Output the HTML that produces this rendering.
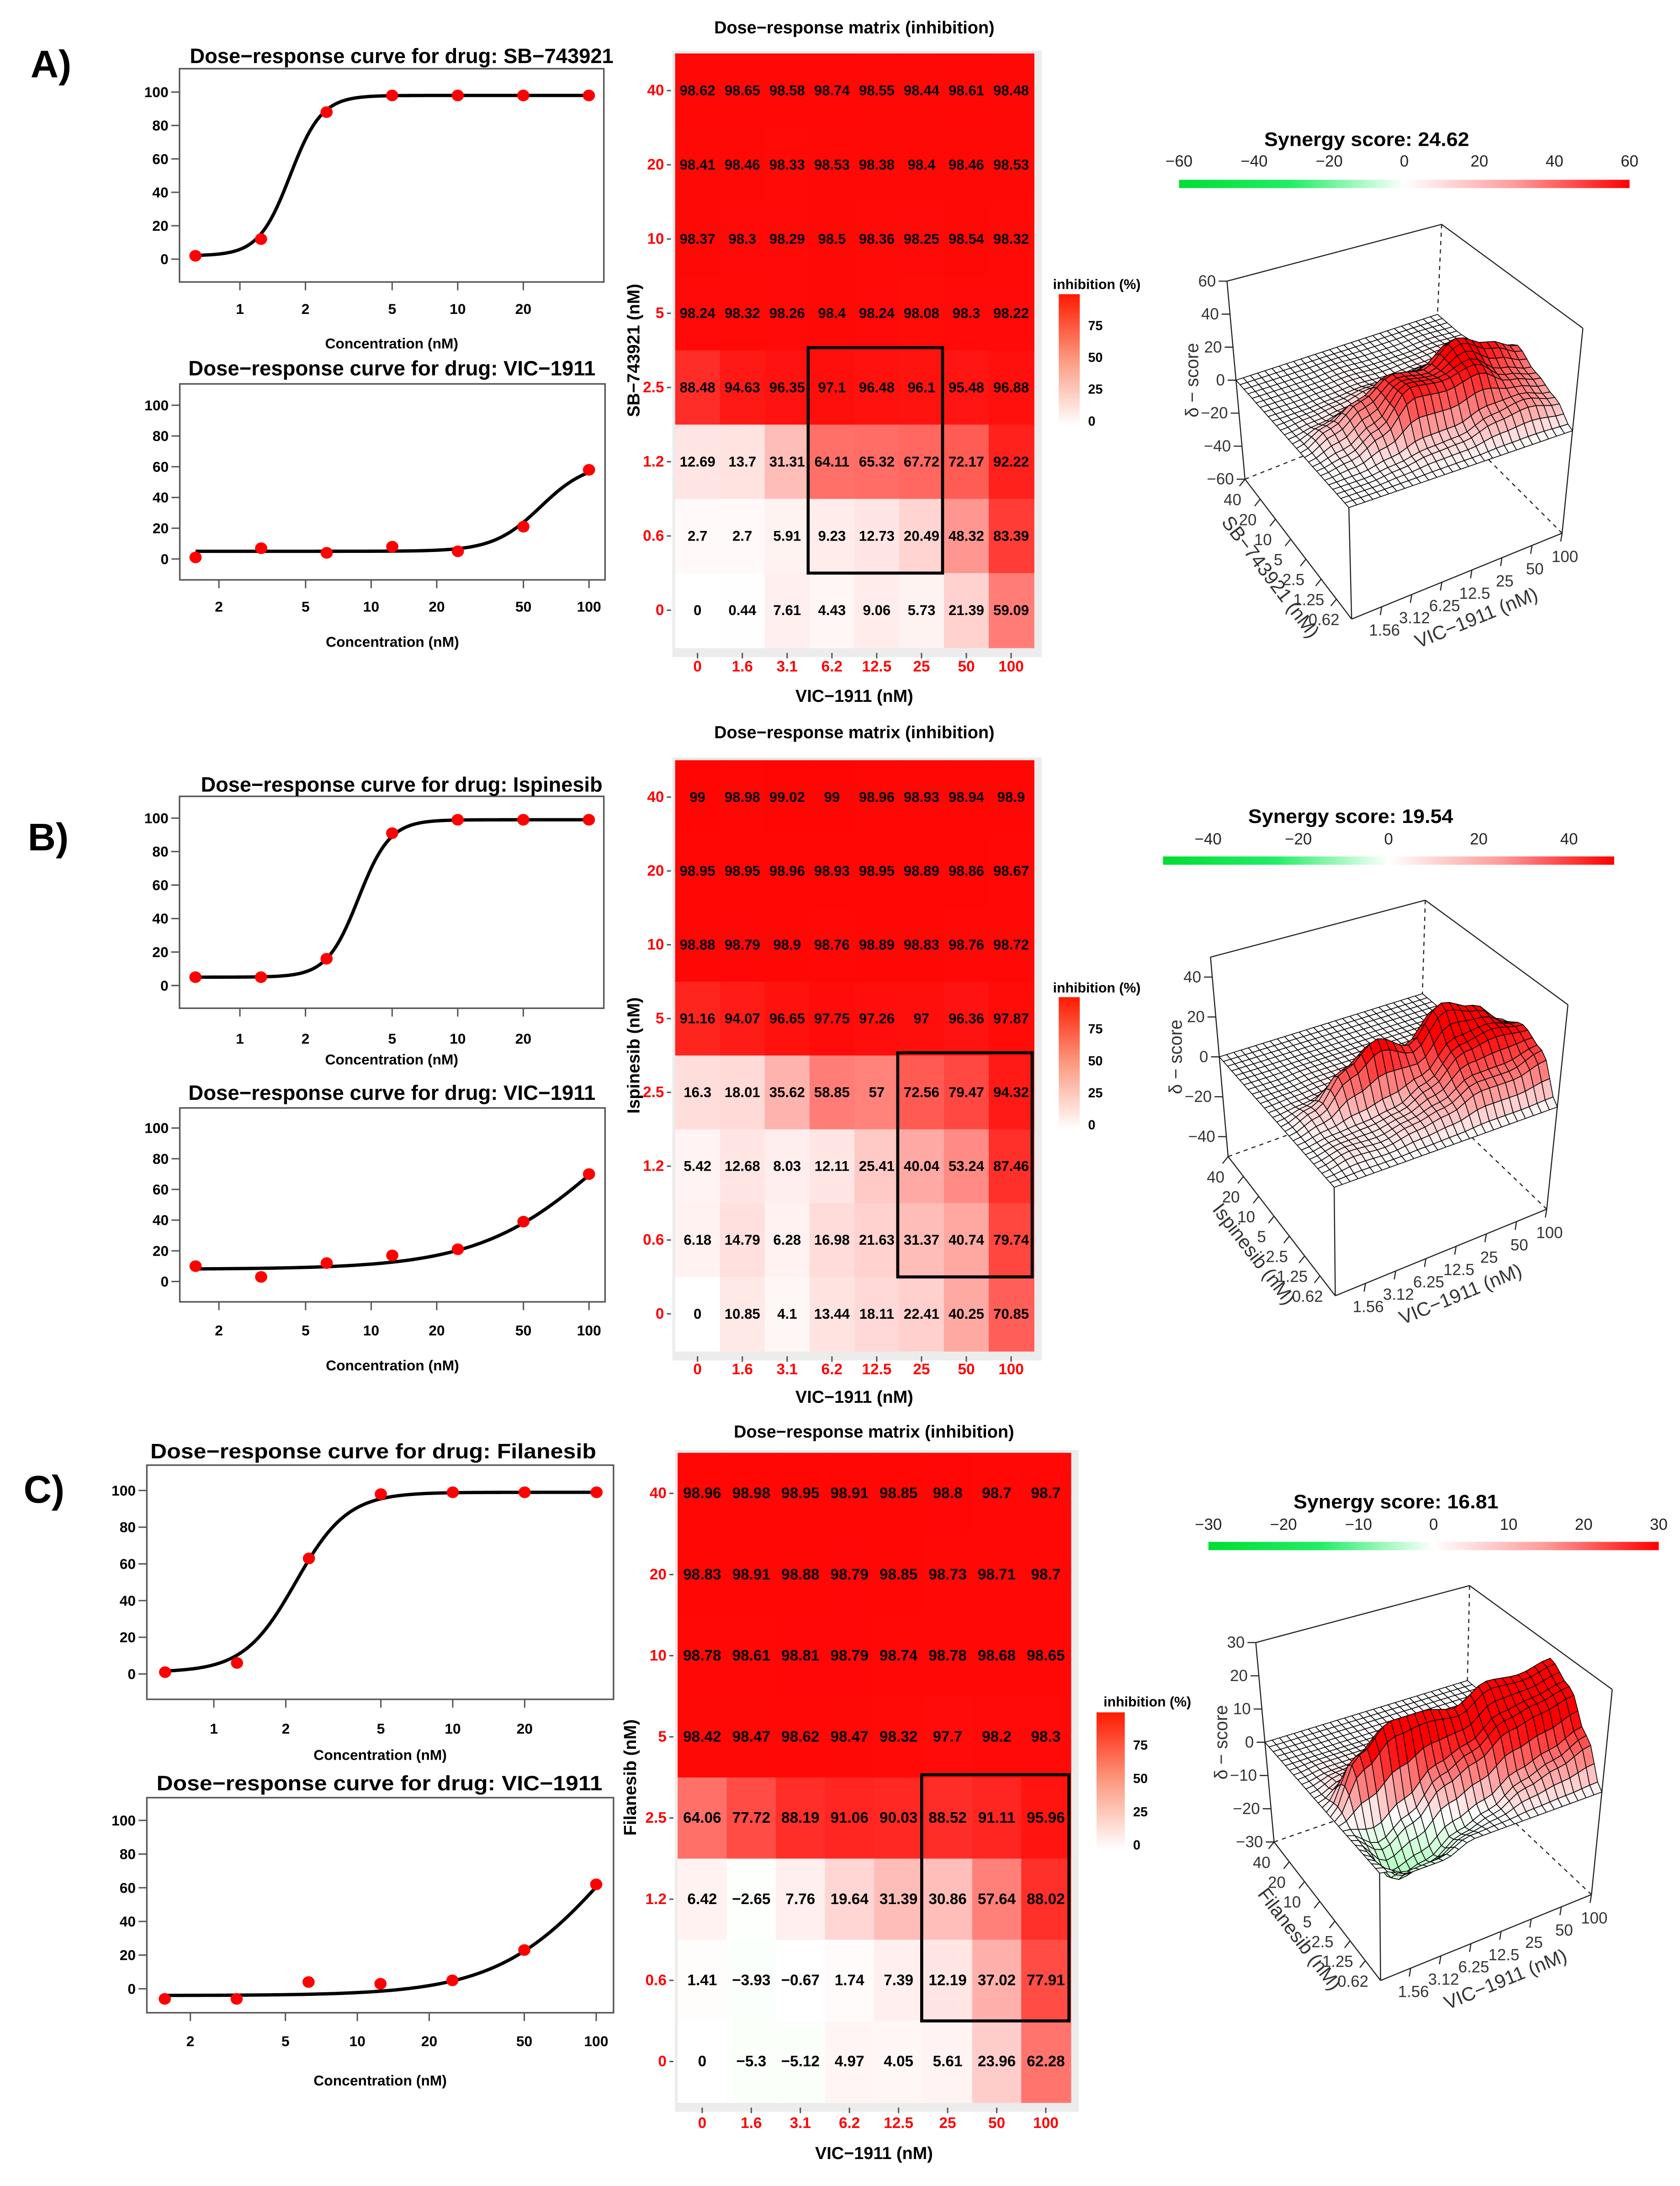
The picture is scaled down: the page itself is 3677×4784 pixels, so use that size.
<!DOCTYPE html>
<html><head><meta charset="utf-8">
<style>
html,body{margin:0;padding:0;background:#fff;width:3677px;height:4784px;overflow:hidden}
svg{display:block}
text{font-family:"Liberation Sans",sans-serif}
</style></head>
<body>
<svg id="fig" xmlns="http://www.w3.org/2000/svg" width="3677" height="4784" viewBox="0 0 1213.1 1578.4">
<defs>
<linearGradient id="gInh" x1="0" y1="1" x2="0" y2="0"><stop offset="0" stop-color="#ffffff"/><stop offset="0.5" stop-color="#fb9a80"/><stop offset="1" stop-color="#ff1a00"/></linearGradient>
<linearGradient id="gSyn" x1="0" y1="0" x2="1" y2="0"><stop offset="0" stop-color="#00dd33"/><stop offset="0.25" stop-color="#22ee66"/><stop offset="0.5" stop-color="#ffffff"/><stop offset="0.75" stop-color="#ff9999"/><stop offset="1" stop-color="#ff0000"/></linearGradient>
</defs>
<rect x="0" y="0" width="1213.1" height="1578.4" fill="#fff"/>
<text x="22" y="56" font-size="28" font-weight="bold">A)</text>
<text x="20" y="614" font-size="28" font-weight="bold">B)</text>
<text x="17" y="1085" font-size="28" font-weight="bold">C)</text>
</svg>
<script>
// ---------- DATA ----------
const concDrug = [0.625, 1.25, 2.5, 5, 10, 20, 40];
const concVIC = [1.5625, 3.125, 6.25, 12.5, 25, 50, 100];
const respA1 = [2, 12, 88, 98, 98, 98, 98];
const respA2 = [1, 7, 4, 8, 5, 21, 58];
const respB1 = [5, 5, 16, 91, 99, 99, 99];
const respB2 = [10, 3, 12, 17, 21, 39, 70];
const respC1 = [1, 6, 63, 98, 99, 99, 99];
const respC2 = [-6, -6, 4, 3, 5, 23, 62];
// fit params: bottom, top, ec50, hill
const fitA1 = [2, 98, 1.7, 6];
const fitA2 = [5, 63, 60, 4];
const fitB1 = [5, 99, 3.5, 6];
const fitB2 = [8, 150, 120, 1.5];
const fitC1 = [1, 99, 2.2, 4];
const fitC2 = [-4, 150, 120, 1.8];
const yTicksCurve = [0, 20, 40, 60, 80, 100];
const xTicksDrug = [1, 2, 5, 10, 20];
const xTicksVIC = [2, 5, 10, 20, 50, 100];

const colLabels = ['0', '1.6', '3.1', '6.2', '12.5', '25', '50', '100'];
const rowLabels = ['40', '20', '10', '5', '2.5', '1.2', '0.6', '0'];
const matA = [
 [98.62,98.65,98.58,98.74,98.55,98.44,98.61,98.48],
 [98.41,98.46,98.33,98.53,98.38,98.4,98.46,98.53],
 [98.37,98.3,98.29,98.5,98.36,98.25,98.54,98.32],
 [98.24,98.32,98.26,98.4,98.24,98.08,98.3,98.22],
 [88.48,94.63,96.35,97.1,96.48,96.1,95.48,96.88],
 [12.69,13.7,31.31,64.11,65.32,67.72,72.17,92.22],
 [2.7,2.7,5.91,9.23,12.73,20.49,48.32,83.39],
 [0,0.44,7.61,4.43,9.06,5.73,21.39,59.09]];
const matB = [
 [99,98.98,99.02,99,98.96,98.93,98.94,98.9],
 [98.95,98.95,98.96,98.93,98.95,98.89,98.86,98.67],
 [98.88,98.79,98.9,98.76,98.89,98.83,98.76,98.72],
 [91.16,94.07,96.65,97.75,97.26,97,96.36,97.87],
 [16.3,18.01,35.62,58.85,57,72.56,79.47,94.32],
 [5.42,12.68,8.03,12.11,25.41,40.04,53.24,87.46],
 [6.18,14.79,6.28,16.98,21.63,31.37,40.74,79.74],
 [0,10.85,4.1,13.44,18.11,22.41,40.25,70.85]];
const matC = [
 [98.96,98.98,98.95,98.91,98.85,98.8,98.7,98.7],
 [98.83,98.91,98.88,98.79,98.85,98.73,98.71,98.7],
 [98.78,98.61,98.81,98.79,98.74,98.78,98.68,98.65],
 [98.42,98.47,98.62,98.47,98.32,97.7,98.2,98.3],
 [64.06,77.72,88.19,91.06,90.03,88.52,91.11,95.96],
 [6.42,-2.65,7.76,19.64,31.39,30.86,57.64,88.02],
 [1.41,-3.93,-0.67,1.74,7.39,12.19,37.02,77.91],
 [0,-5.3,-5.12,4.97,4.05,5.61,23.96,62.28]];
const legendTicks = [0, 25, 50, 75];

const deltaA = [
 [0,0,0,0,0,0,0,0],
 [0,0,0,1,0,0,1,0],
 [0,0,1,2,1,2,3,2],
 [0,2,4,8,8,12,10,8],
 [0,8,18,28,25,38,30,22],
 [0,3,12,30,28,32,20,15],
 [0,0,2,5,6,12,15,10],
 [0,0,0,0,0,0,0,0]];
const deltaB = [
 [0,0,0,0,0,0,0,0],
 [0,0,0,0,0,0,0,0],
 [0,0,1,1,1,1,1,1],
 [0,1,2,3,5,10,8,5],
 [0,5,20,30,22,38,32,20],
 [0,2,3,5,12,25,28,25],
 [0,3,2,5,8,15,15,20],
 [0,0,0,0,0,0,0,0]];
const deltaC = [
 [0,0,0,0,0,0,0,0],
 [0,0,0,0,0,0,0,0],
 [0,1,1,1,1,1,1,1],
 [0,3,5,5,4,5,6,5],
 [0,15,22,22,20,25,24,26],
 [0,-5,0,8,12,18,20,22],
 [0,-10,-8,-3,0,5,8,12],
 [0,-3,-3,0,0,0,0,0]];
const drugTickLabels = ['40', '20', '10', '5', '2.5', '1.25', '0.62'];
const vicTickLabels = ['1.56', '3.12', '6.25', '12.5', '25', '50', '100'];
const zTicksA = [60, 40, 20, 0, -20, -40, -60];
const zTicksB = [40, 20, 0, -20, -40];
const zTicksC = [30, 20, 10, 0, -10, -20, -30];
const synTicksA = [-60, -40, -20, 0, 20, 40, 60];
const synTicksB = [-40, -20, 0, 20, 40];
const synTicksC = [-30, -20, -10, 0, 10, 20, 30];
const synScores = ['24.62', '19.54', '16.81'];

// ---------- HELPERS ----------
const NS = 'http://www.w3.org/2000/svg';
const svg = document.getElementById('fig');
function mk(tag, attrs, parent, txt) {
  const e = document.createElementNS(NS, tag);
  for (const k in attrs) e.setAttribute(k, attrs[k]);
  if (txt !== undefined) e.textContent = txt;
  parent.appendChild(e);
  return e;
}
function fmt(v) { return v < 0 ? '\u2212' + Math.abs(v) : String(v); }

// ---------- DOSE-RESPONSE CURVES ----------
function curvePanel(name, geo, title, conc, resp, fit, xticks) {
  const g = mk('g', {}, svg);
  
  
  const xs = c => geo.x1 + geo.dec * Math.log10(c);
  const ys = v => geo.yz + (geo.yh - geo.yz) * v / 100;
  const box = mk('rect', {x: geo.bx0, y: geo.by0, width: geo.bx1 - geo.bx0, height: geo.by1 - geo.by0, fill: 'none', stroke: '#555', 'stroke-width': 1.1}, g);
  
  
  const t = mk('text', {x: geo.tx, y: geo.ty, 'text-anchor': 'middle', 'dominant-baseline': 'central', 'font-size': 15, 'font-weight': 'bold', textLength: geo.tl, lengthAdjust: 'spacingAndGlyphs'}, g, title);
  
  
  yTicksCurve.forEach(v => {
    const y = ys(v);
    const tk = mk('line', {x1: geo.bx0 - 6, x2: geo.bx0, y1: y, y2: y, stroke: '#555', 'stroke-width': 1}, g);
    
    
    const lb = mk('text', {x: geo.bx0 - 8, y: y, 'text-anchor': 'end', 'dominant-baseline': 'central', 'font-size': 10.5, 'font-weight': 'bold'}, g, String(v));
    
    
  });
  xticks.forEach(v => {
    const x = xs(v);
    const tk = mk('line', {x1: x, x2: x, y1: geo.by1, y2: geo.by1 + 6, stroke: '#555', 'stroke-width': 1}, g);
    
    
    const lb = mk('text', {x: x, y: geo.xty, 'text-anchor': 'middle', 'dominant-baseline': 'central', 'font-size': 10.5, 'font-weight': 'bold'}, g, String(v));
    
    
  });
  const xl = mk('text', {x: (geo.bx0 + geo.bx1) / 2, y: geo.xly, 'text-anchor': 'middle', 'dominant-baseline': 'central', 'font-size': 10.5, 'font-weight': 'bold'}, g, 'Concentration (nM)');
  
  
  const lo = Math.log10(conc[0]), hi = Math.log10(conc[conc.length - 1]);
  let d = '';
  for (let i = 0; i <= 120; i++) {
    const c = Math.pow(10, lo + (hi - lo) * i / 120);
    const v = fit[0] + (fit[1] - fit[0]) / (1 + Math.pow(fit[2] / c, fit[3]));
    d += (i ? 'L' : 'M') + xs(c).toFixed(2) + ',' + ys(v).toFixed(2);
  }
  const p = mk('path', {d: d, fill: 'none', stroke: '#000', 'stroke-width': 2.4}, g);
  
  
  conc.forEach((c, i) => {
    const pt = mk('ellipse', {cx: xs(c), cy: ys(resp[i]), rx: 4.4, ry: 4.2, fill: '#ff0000'}, g);
    
    
  });
}

curvePanel('curve-a-sb743921', {bx0:129.6,bx1:436,by0:49.6,by1:203.6,yh:66.5,yz:187.1,x1:173.2,dec:157.3,tx:290,ty:40.4,tl:306,xty:223,xly:248}, 'Dose\u2212response curve for drug: SB\u2212743921', concDrug, respA1, fitA1, xTicksDrug);
curvePanel('curve-a-vic1911', {bx0:129.8,bx1:436.9,by0:277.2,by1:418.7,yh:292.6,yz:403.6,x1:110.7,dec:157.3,tx:283,ty:266,tl:294,xty:438,xly:463.4}, 'Dose\u2212response curve for drug: VIC\u22121911', concVIC, respA2, fitA2, xTicksVIC);
curvePanel('curve-b-ispinesib', {bx0:129.6,bx1:436,by0:575,by1:728,yh:590.7,yz:711.6,x1:173.2,dec:157.3,tx:290,ty:566.5,tl:290,xty:750,xly:765}, 'Dose\u2212response curve for drug: Ispinesib', concDrug, respB1, fitB1, xTicksDrug);
curvePanel('curve-b-vic1911', {bx0:129.8,bx1:436.9,by0:800,by1:940,yh:814.5,yz:925.3,x1:110.7,dec:157.3,tx:283,ty:789,tl:294,xty:960.6,xly:985.8}, 'Dose\u2212response curve for drug: VIC\u22121911', concVIC, respB2, fitB2, xTicksVIC);
curvePanel('curve-c-filanesib', {bx0:106,bx1:443,by0:1057.9,by1:1227,yh:1076.2,yz:1208.7,x1:154.4,dec:172.5,tx:269.5,ty:1047.8,tl:322,xty:1248.2,xly:1267.1}, 'Dose\u2212response curve for drug: Filanesib', concDrug, respC1, fitC1, xTicksDrug);
curvePanel('curve-c-vic1911', {bx0:106,bx1:443,by0:1298,by1:1453.3,yh:1314.4,yz:1436,x1:85.5,dec:172.5,tx:274,ty:1287.6,tl:322,xty:1473.8,xly:1502.2}, 'Dose\u2212response curve for drug: VIC\u22121911', concVIC, respC2, fitC2, xTicksVIC);

// ---------- HEATMAPS ----------
function inhColor(v) {
  if (v >= 0) {
    const t = Math.min(v / 100, 1);
    const k = Math.pow(1 - t, 0.8);
    return 'rgb(255,' + Math.round(255 * k) + ',' + Math.round(255 * Math.pow(k, 1.08)) + ')';
  }
  const t = Math.min(-v / 40, 1);
  return 'rgb(' + Math.round(255 - 40 * t) + ',255,' + Math.round(255 - 40 * t) + ')';
}
function heatmap(name, geo, M, title, ylab, rc) {
  const g = mk('g', {}, svg);
  
  
  const W = geo.cw * 8, H = geo.rh * 8;
  const bg = mk('rect', {x: geo.x0 - 2, y: geo.y0 - 2, width: W + 8, height: H + 9, fill: '#ececec'}, g);
  
  
  M.forEach((row, r) => row.forEach((v, c) => {
    const cell = mk('rect', {x: geo.x0 + c * geo.cw, y: geo.y0 + r * geo.rh, width: geo.cw + 0.6, height: geo.rh + 0.6, fill: inhColor(v)}, g);
    
    
  }));
  M.forEach((row, r) => row.forEach((v, c) => {
    const tx = mk('text', {x: geo.x0 + (c + 0.5) * geo.cw, y: geo.y0 + (r + 0.5) * geo.rh, 'text-anchor': 'middle', 'dominant-baseline': 'central', 'font-size': geo.fs, 'font-weight': 'bold'}, g, fmt(v));
    
    
  }));
  rowLabels.forEach((l, r) => {
    const y = geo.y0 + (r + 0.5) * geo.rh;
    const tk = mk('line', {x1: geo.x0 - 6, x2: geo.x0 - 3, y1: y, y2: y, stroke: '#555', 'stroke-width': 1}, g);
    
    
    const lb = mk('text', {x: geo.x0 - 8, y: y, 'text-anchor': 'end', 'dominant-baseline': 'central', 'font-size': 11, 'font-weight': 'bold', fill: '#ff0000'}, g, l);
    
    
  });
  colLabels.forEach((l, c) => {
    const x = geo.x0 + (c + 0.5) * geo.cw;
    const tk = mk('line', {x1: x, x2: x, y1: geo.y0 + H + 4, y2: geo.y0 + H + 8, stroke: '#555', 'stroke-width': 1}, g);
    
    
    const lb = mk('text', {x: x, y: geo.xty, 'text-anchor': 'middle', 'dominant-baseline': 'central', 'font-size': 11, 'font-weight': 'bold', fill: '#ff0000'}, g, l);
    
    
  });
  const ti = mk('text', {x: geo.x0 + W / 2, y: geo.ty, 'text-anchor': 'middle', 'dominant-baseline': 'central', 'font-size': 12.5, 'font-weight': 'bold'}, g, title);
  
  
  const xl = mk('text', {x: geo.x0 + W / 2, y: geo.xly, 'text-anchor': 'middle', 'dominant-baseline': 'central', 'font-size': 12.5, 'font-weight': 'bold'}, g, 'VIC\u22121911 (nM)');
  
  
  const yl = mk('text', {x: geo.ylx, y: geo.y0 + H / 2, 'text-anchor': 'middle', 'dominant-baseline': 'central', 'font-size': 12.5, 'font-weight': 'bold', transform: 'rotate(-90 ' + geo.ylx + ' ' + (geo.y0 + H / 2) + ')'}, g, ylab);
  
  
  const hl = mk('rect', {x: geo.x0 + rc[0] * geo.cw - 1, y: geo.y0 + rc[2] * geo.rh - 2, width: (rc[1] - rc[0] + 1) * geo.cw, height: (rc[3] - rc[2] + 1) * geo.rh + 2, fill: 'none', stroke: '#000', 'stroke-width': 2.2}, g);
  
  
  const L = geo.leg;
  const ly = v => L.y0 + (L.y100 - L.y0) * v / 100;
  const lt = mk('text', {x: L.tx, y: L.ty, 'text-anchor': 'middle', 'dominant-baseline': 'central', 'font-size': 10, 'font-weight': 'bold'}, g, 'inhibition (%)');
  
  
  const bar = mk('rect', {x: L.x, y: ly(100), width: L.w, height: ly(0) - ly(100) + 3, fill: 'url(#gInh)'}, g);
  
  
  legendTicks.forEach(v => {
    const lb = mk('text', {x: L.x + L.w + 6, y: ly(v), 'dominant-baseline': 'central', 'font-size': 9.5, 'font-weight': 'bold'}, g, String(v));
    
    
  });
}
heatmap('heatmap-a', {x0:487.5,y0:38.6,cw:32.35,rh:53.6,fs:10.3,ty:20.2,xty:481.4,xly:502.8,ylx:457.7,leg:{x:764.5,w:15.2,y100:212.4,y0:304.3,tx:792,ty:205.5}}, matA, 'Dose\u2212response matrix (inhibition)', 'SB\u2212743921 (nM)', [3,5,4,6]);
heatmap('heatmap-b', {x0:487.5,y0:548.9,cw:32.35,rh:53.3,fs:10.3,ty:529,xty:988.8,xly:1009,ylx:457.7,leg:{x:764.5,w:15.2,y100:720,y0:812.5,tx:792,ty:713.5}}, matB, 'Dose\u2212response matrix (inhibition)', 'Ispinesib (nM)', [5,7,4,6]);
heatmap('heatmap-c', {x0:489.3,y0:1049,cw:35.45,rh:58.6,fs:11,ty:1034,xty:1533,xly:1555,ylx:455.2,leg:{x:791.8,w:20.4,y100:1236.4,y0:1332.5,tx:828.5,ty:1229}}, matC, 'Dose\u2212response matrix (inhibition)', 'Filanesib (nM)', [5,7,4,6]);

// ---------- SYNERGY COLORBARS ----------
function synBar(name, geo, ticks, range, score) {
  const g = mk('g', {}, svg);
  
  
  const t = mk('text', {x: geo.tx, y: geo.ty, 'text-anchor': 'middle', 'dominant-baseline': 'central', 'font-size': 14, 'font-weight': 'bold', textLength: 148, lengthAdjust: 'spacingAndGlyphs'}, g, 'Synergy score: ' + score);
  
  
  const b = mk('rect', {x: geo.x0, y: geo.y - 3, width: geo.x1 - geo.x0, height: 6, fill: 'url(#gSyn)'}, g);
  
  
  const xs = v => geo.x0 + (v + range) / (2 * range) * (geo.x1 - geo.x0);
  ticks.forEach(v => {
    const lb = mk('text', {x: xs(v), y: geo.ly, 'text-anchor': 'middle', 'dominant-baseline': 'central', 'font-size': 11.5, fill: '#222'}, g, fmt(v));
    
    
  });
}
synBar('synergy-legend-a', {tx:986.9,ty:100.6,x0:851.4,x1:1176.7,y:132.8,ly:116.4}, synTicksA, 60, synScores[0]);
synBar('synergy-legend-b', {tx:975.3,ty:589.5,x0:839.8,x1:1165.6,y:621.4,ly:606}, synTicksB, 50, synScores[1]);
synBar('synergy-legend-c', {tx:1008,ty:1084.4,x0:872.6,x1:1197.8,y:1116.3,ly:1100.9}, synTicksC, 30, synScores[2]);

// ---------- 3D SURFACES ----------
function surface(name, P, D, zr, zticks, drugLab) {
  const g = mk('g', {}, svg);
  
  
  const bil = (L, F, R, B, a, b) => [
    L[0]*(1-a)*(1-b) + F[0]*a*(1-b) + R[0]*a*b + B[0]*(1-a)*b,
    L[1]*(1-a)*(1-b) + F[1]*a*(1-b) + R[1]*a*b + B[1]*(1-a)*b];
  const proj = (a, b, z) => {
    const p0 = bil(P.L, P.F, P.R, P.B, a, b), p1 = bil(P.TL, P.TF, P.TR, P.TB, a, b);
    const t = (z + zr) / (2 * zr);
    return [p0[0] + (p1[0] - p0[0]) * t, p0[1] + (p1[1] - p0[1]) * t];
  };
  const sm = f => (1 - Math.cos(Math.PI * f)) / 2;
  const val = (a, b) => {
    const fa = a * 7, fb = b * 7;
    const r0 = Math.min(6, Math.floor(fa)), c0 = Math.min(6, Math.floor(fb));
    const u = sm(fa - r0), v = sm(fb - c0);
    return D[r0][c0]*(1-u)*(1-v) + D[r0+1][c0]*u*(1-v) + D[r0][c0+1]*(1-u)*v + D[r0+1][c0+1]*u*v;
  };
  const line = (p, q, dash, nm) => {
    const l = mk('line', {x1: p[0], y1: p[1], x2: q[0], y2: q[1], stroke: '#222', 'stroke-width': 0.8, 'stroke-dasharray': dash ? '3,3' : 'none'}, g);
    
    
  };
  line(P.TL, P.TB, false, 'box-edge');
  line(P.TB, P.TR, false, 'box-edge');
  line(P.TL, P.BL2, false, 'box-edge');
  line(P.TR, P.R, false, 'box-edge');
  line(P.TB, P.B, true, 'box-edge-hidden');
  line(P.L, P.B, true, 'box-edge-hidden');
  line(P.R, P.B, true, 'box-edge-hidden');
  zticks.forEach(z => {
    const t = (z + zr) / (2 * zr);
    const p = [P.L[0] + (P.TL[0] - P.L[0]) * t, P.L[1] + (P.TL[1] - P.L[1]) * t];
    const tk = mk('line', {x1: p[0] - 6, x2: p[0], y1: p[1], y2: p[1], stroke: '#222', 'stroke-width': 0.8}, g);
    
    
    const lb = mk('text', {x: p[0] - 8, y: p[1], 'text-anchor': 'end', 'dominant-baseline': 'central', 'font-size': 11.5, fill: '#333'}, g, fmt(z));
    
    
  });
  const sub = 4, N = 7 * sub, facets = [];
  for (let i = 0; i < N; i++) for (let j = 0; j < N; j++) {
    const a0 = i / N, a1 = (i + 1) / N, b0 = j / N, b1 = (j + 1) / N;
    const zs = [val(a0, b0), val(a1, b0), val(a1, b1), val(a0, b1)];
    facets.push({key: (a0 + a1) / 2 + (1 - (b0 + b1) / 2), pts: [proj(a0, b0, zs[0]), proj(a1, b0, zs[1]), proj(a1, b1, zs[2]), proj(a0, b1, zs[3])], z: (zs[0] + zs[1] + zs[2] + zs[3]) / 4});
  }
  facets.sort((p, q) => p.key - q.key);
  facets.forEach(f => {
    let fill;
    if (f.z >= 0) { const t = Math.min(f.z / zr * 1.9, 1); fill = 'rgb(255,' + Math.round(255 * (1 - t)) + ',' + Math.round(255 * (1 - t)) + ')'; }
    else { const t = Math.min(-f.z / zr * 1.6, 1); fill = 'rgb(' + Math.round(255 * (1 - 0.6 * t)) + ',255,' + Math.round(255 * (1 - 0.5 * t)) + ')'; }
    const pg = mk('polygon', {points: f.pts.map(p => p[0].toFixed(2) + ',' + p[1].toFixed(2)).join(' '), fill: fill, stroke: '#000', 'stroke-width': 0.55, 'stroke-linejoin': 'round'}, g);
    
    
  });
  line(P.L, P.F, false, 'box-edge');
  line(P.F, P.R, false, 'box-edge');
  line(P.F, proj(1, 0, D[7][0]), false, 'box-edge');
  drugTickLabels.forEach((l, k) => {
    const p = proj(k / 7, 0, -zr);
    const tk = mk('line', {x1: p[0], y1: p[1], x2: p[0] - 4, y2: p[1] + 5, stroke: '#222', 'stroke-width': 0.8}, g);
    
    
    const lb = mk('text', {x: p[0] - 9, y: p[1] + 15, 'text-anchor': 'middle', 'dominant-baseline': 'central', 'font-size': 11.5, fill: '#333'}, g, l);
    
    
  });
  vicTickLabels.forEach((l, k) => {
    const p = proj(1, (k + 1) / 7, -zr);
    const tk = mk('line', {x1: p[0], y1: p[1], x2: p[0] - 1, y2: p[1] + 6, stroke: '#222', 'stroke-width': 0.8}, g);
    
    
    const lb = mk('text', {x: p[0] + 2, y: p[1] + 17, 'text-anchor': 'middle', 'dominant-baseline': 'central', 'font-size': 11.5, fill: '#333'}, g, l);
    
    
  });
  const zx = P.TL[0] - 25, zy = (P.TL[1] + P.L[1]) / 2;
  const zt = mk('text', {x: zx, y: zy, 'text-anchor': 'middle', 'dominant-baseline': 'central', 'font-size': 13, fill: '#333', transform: 'rotate(-90 ' + zx + ' ' + zy + ')'}, g, '\u03b4 \u2212 score');
  
  
  const ang1 = Math.atan2(P.F[1] - P.L[1], P.F[0] - P.L[0]) * 180 / Math.PI;
  const dx = (P.L[0] + P.F[0]) / 2 - 20, dy = (P.L[1] + P.F[1]) / 2 + 20;
  const dt = mk('text', {x: dx, y: dy, 'text-anchor': 'middle', 'dominant-baseline': 'central', 'font-size': 14, fill: '#333', transform: 'rotate(' + ang1.toFixed(1) + ' ' + dx + ' ' + dy + ')'}, g, drugLab);
  
  
  const ang2 = Math.atan2(P.R[1] - P.F[1], P.R[0] - P.F[0]) * 180 / Math.PI;
  const vx = (P.F[0] + P.R[0]) / 2 + 14, vy = (P.F[1] + P.R[1]) / 2 + 30;
  const vt = mk('text', {x: vx, y: vy, 'text-anchor': 'middle', 'dominant-baseline': 'central', 'font-size': 14, fill: '#333', transform: 'rotate(' + ang2.toFixed(1) + ' ' + vx + ' ' + vy + ')'}, g, 'VIC\u22121911 (nM)');
  
  
}
surface('synergy-surface-a', {L:[899,346],F:[976,447],R:[1128,385],B:[1035,292],BL2:[899,346],TL:[886,203],TF:[972,286],TR:[1143,237],TB:[1041,162]}, deltaA, 60, zTicksA, 'SB\u2212743921 (nM)');
surface('synergy-surface-b', {L:[886.8,835.1],F:[964.2,935.6],R:[1116.9,873.1],B:[1025,785],BL2:[886.8,835.1],TL:[874.1,691.1],TF:[962.6,779],TR:[1132.2,725.5],TB:[1029.2,650]}, deltaB, 50, zTicksB, 'Ispinesib (nM)');
surface('synergy-surface-c', {L:[920,1330],F:[996.9,1430],R:[1149.2,1368],B:[1058,1282],BL2:[920,1330],TL:[906.8,1186],TF:[995.5,1275],TR:[1164.2,1219.9],TB:[1061.2,1144.9]}, deltaC, 30, zTicksC, 'Filanesib (nM)');
</script>
</body></html>
